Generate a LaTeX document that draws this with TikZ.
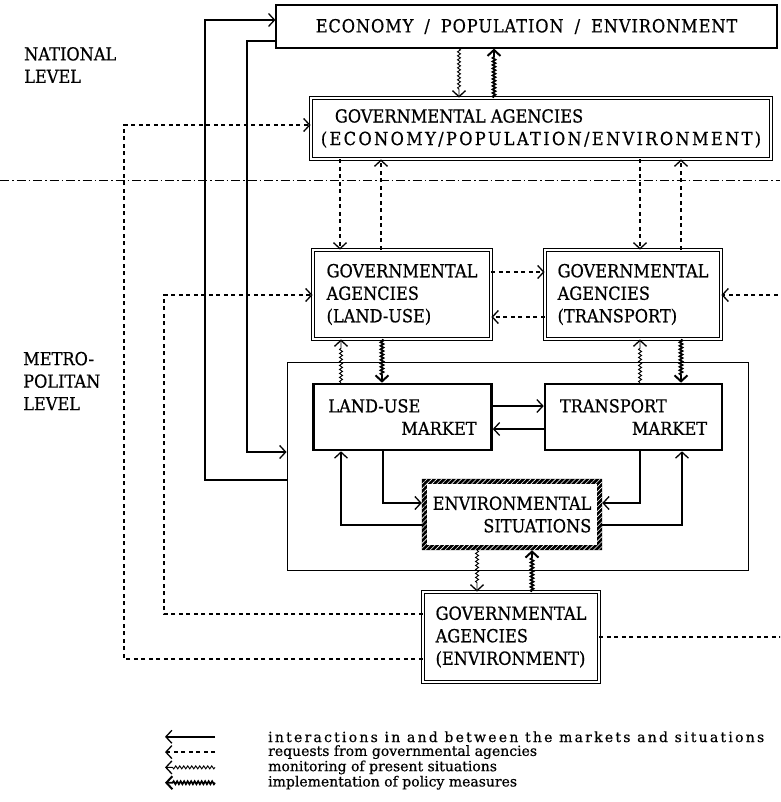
\documentclass[tikz,border=0pt]{standalone}
\usepackage{fontspec}
\setmainfont{DejaVu Serif}[FakeStretch=0.9, FakeBold=0.6]
\newfontfamily\worldfont{DejaVu Serif}[FakeStretch=0.9, FakeBold=0.6, LetterSpace=5]
\newfontfamily\agencyfont{DejaVu Serif}[FakeStretch=0.9, FakeBold=0.6, LetterSpace=13]
\newfontfamily\legbasefont{DejaVu Serif}[FakeBold=0.6]
\newfontfamily\leglongfont{DejaVu Serif}[FakeBold=0.6, LetterSpace=16]
\usetikzlibrary{arrows.meta,decorations.pathmorphing,patterns.meta}
\newcommand\diafont{\fontsize{18}{22.5}\selectfont}
\newcommand\legfont{\legbasefont\fontsize{14}{15}\selectfont}

\begin{document}
\begin{tikzpicture}[x=1pt, y=-1pt, every node/.style={font=\diafont, inner sep=0pt},
      tip/.style={-{Straight Barb[length=6pt,width=13pt,line width=1.3pt]}},
      flow/.style={tip, line width=1.4pt},
      req/.style={tip, line width=1.9pt, dash pattern=on 4pt off 3.5pt},
      mon/.style={tip, line width=0.9pt, decorate,
                  decoration={snake, amplitude=1.5pt, segment length=4pt, post length=7pt}},
      imp/.style={-{Straight Barb[length=6pt,width=13pt,line width=2pt]}, line width=1.7pt, decorate,
                  decoration={snake, amplitude=1.5pt, segment length=3.5pt, post length=7pt}},
      world/.style={draw, line width=1.2pt, minimum width=501pt, minimum height=43pt},
      agency/.style={draw, double, double distance=1.5pt, line width=0.9pt, align=left},
      market/.style={draw, line width=2.6pt, align=left, minimum width=178pt, minimum height=66pt},
      sep/.style={line width=0.8pt, dash pattern=on 9pt off 3pt on 1.5pt off 3pt}]
    \useasboundingbox (0,0) rectangle (780,802);
    \clip (0,0) rectangle (780,802);

    % levels
    \node[anchor=west, align=left] (natl) at (24,65) {NATIONAL\\LEVEL};
    \node[anchor=west, align=left] (metro) at (23,381) {METRO-\\POLITAN\\LEVEL};
    \draw[sep] (0,180) -- (780,180);

    % boxes
    \node[world] (epe) at (526.5,26.5) {\worldfont\spaceskip=11pt ECONOMY / POPULATION / ENVIRONMENT};
    \node[agency, minimum width=460pt, minimum height=61pt] (gaepe) at (541,128.5)
      {\hspace*{14pt}GOVERNMENTAL AGENCIES\\{\agencyfont(ECONOMY/POPULATION/ENVIRONMENT)}};
    \node[agency, minimum width=178pt, minimum height=89pt] (galu) at (402,294.5)
      {GOVERNMENTAL\\AGENCIES\\(LAND-USE)};
    \node[agency, minimum width=176pt, minimum height=89pt] (gatr) at (633,294.5)
      {GOVERNMENTAL\\AGENCIES\\(TRANSPORT)};
    \node[draw, line width=0.9pt, minimum width=461pt, minimum height=208pt] (mkt) at (517.5,466) {};
    \node[market] (lum) at (402.5,417) {LAND-USE\\\hspace*{73pt}MARKET};
    \node[market, minimum width=177pt] (trm) at (633.5,417) {TRANSPORT\\\hspace*{72pt}MARKET};
    \node[align=right, minimum width=180pt, minimum height=71pt] (envs) at (512,514.5)
      {ENVIRONMENTAL\\SITUATIONS};
    \fill[even odd rule] (envs.south west) rectangle (envs.north east)
      ([shift={(5pt,5pt)}]envs.south west) rectangle ([shift={(-5pt,-5pt)}]envs.north east);
    \fill[even odd rule, pattern={Lines[angle=45,distance=3.5pt,line width=0.6pt]}, pattern color=white]
      (envs.south west) rectangle (envs.north east)
      ([shift={(5pt,5pt)}]envs.south west) rectangle ([shift={(-5pt,-5pt)}]envs.north east);
    \node[agency, minimum width=176pt, minimum height=90pt] (gaenv) at (511,637)
      {GOVERNMENTAL\\AGENCIES\\(ENVIRONMENT)};

    % interactions
    \draw[flow] (mkt.west |- 0,480) -- (205,480) |- (epe.west |- 0,20);
    \draw[flow] (epe.west |- 0,41) -- (247,41) |- (mkt.west |- 0,452);
    \draw[flow] (lum.east |- 0,406) -- (trm.west |- 0,406);
    \draw[flow] (trm.west |- 0,429) -- (lum.east |- 0,429);
    \draw[flow] (383,0 |- lum.south) |- (envs.west |- 0,503);
    \draw[flow] (envs.west |- 0,525) -| (341,0 |- lum.south);
    \draw[flow] (640,0 |- trm.south) |- (envs.east |- 0,503);
    \draw[flow] (envs.east |- 0,525) -| (682,0 |- trm.south);

    % requests
    \draw[req] (gaenv.west |- 0,659) -| (124,125) -- (gaepe.west |- 0,125);
    \draw[req] (gaenv.west |- 0,614) -| (164,295) -- (galu.west |- 0,295);
    \draw[req] (gaenv.east |- 0,637) -| (795,295) -- (gatr.east |- 0,295);
    \draw[req] (galu.east |- 0,272) -- (gatr.west |- 0,272);
    \draw[req] (gatr.west |- 0,317) -- (galu.east |- 0,317);
    \draw[req] (340,0 |- gaepe.south) -- (340,0 |- galu.north);
    \draw[req] (381,0 |- galu.north) -- (381,0 |- gaepe.south);
    \draw[req] (640,0 |- gaepe.south) -- (640,0 |- gatr.north);
    \draw[req] (681,0 |- gatr.north) -- (681,0 |- gaepe.south);

    % monitoring / implementation
    \draw[mon] (459,0 |- epe.south) -- (459,0 |- gaepe.north);
    \draw[imp] (494,0 |- gaepe.north) -- (494,0 |- epe.south);
    \draw[mon] (341,0 |- lum.north) -- (341,0 |- galu.south);
    \draw[imp] (382,0 |- galu.south) -- (382,0 |- lum.north);
    \draw[mon] (640,0 |- trm.north) -- (640,0 |- gatr.south);
    \draw[imp] (681,0 |- gatr.south) -- (681,0 |- trm.north);
    \draw[mon] (477,0 |- envs.south) -- (477,0 |- gaenv.north);
    \draw[imp] (532,0 |- gaenv.north) -- (532,0 |- envs.south);

    % legend
    \foreach \st/\txt [count=\i] in {flow/{\leglongfont interactions in and between the markets and situations},
        req/requests from governmental agencies, mon/monitoring of present situations,
        imp/implementation of policy measures} {
      \node[anchor=west, font=\legfont] (leg\i) at (268,721.5+15.3*\i) {\txt};
      \draw[\st] ([xshift=-53pt]leg\i.west) -- ++(-50,0);
    }
  \end{tikzpicture}
\end{document}
